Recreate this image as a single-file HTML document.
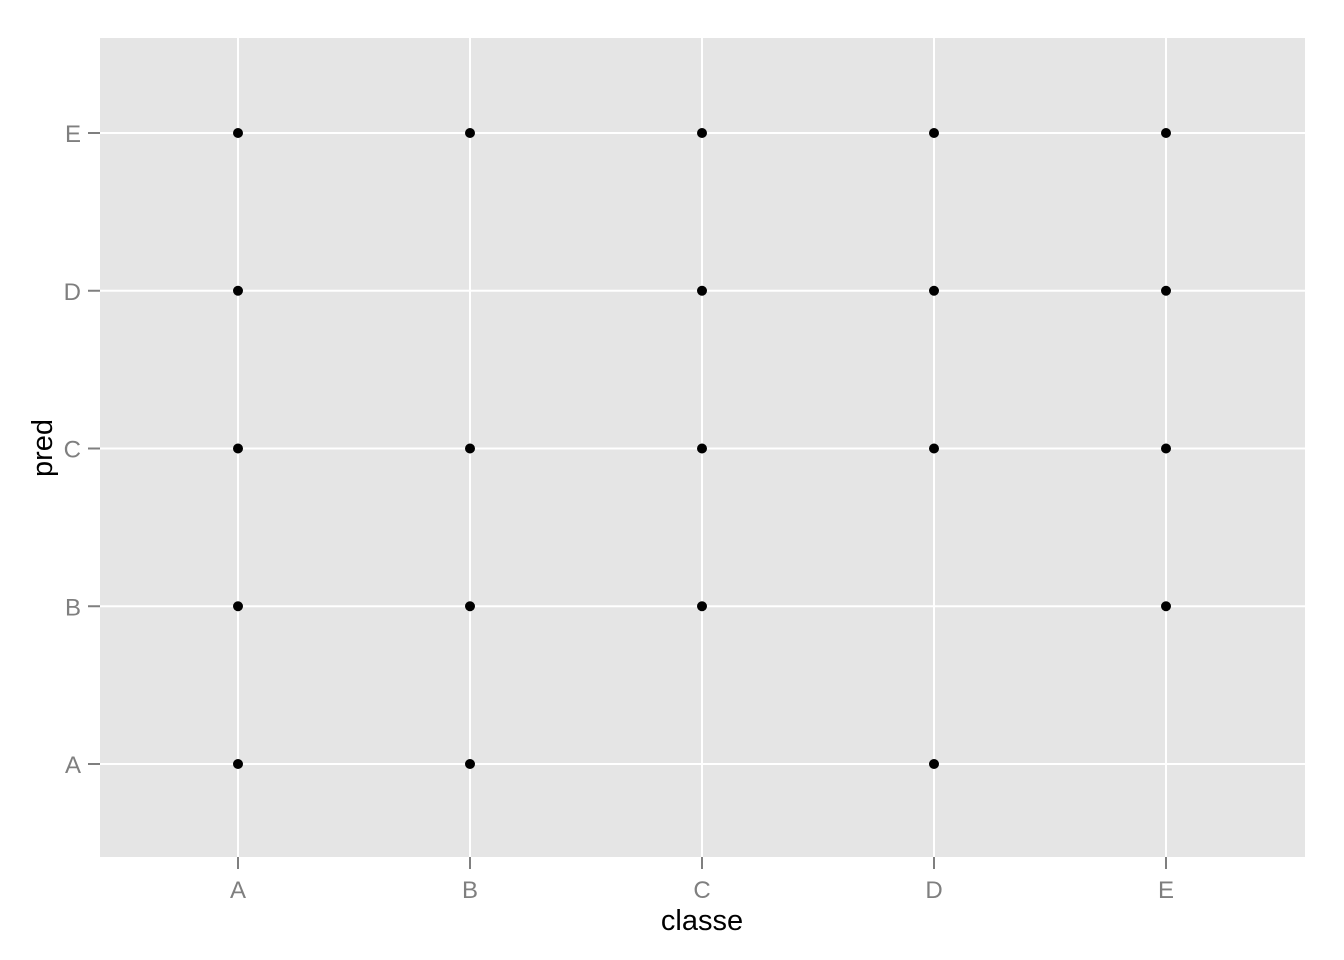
<!DOCTYPE html>
<html><head><meta charset="utf-8"><style>
body{margin:0;background:#fff}
svg{display:block;font-family:"Liberation Sans",sans-serif}
</style></head><body>
<svg id="chart" width="1344" height="960" xmlns="http://www.w3.org/2000/svg">
<rect x="100" y="38" width="1205" height="819" fill="#e5e5e5"/>
<g id="grid"></g><g id="pts"></g><g id="axes"></g>
<text x="702" y="930" font-size="29" text-anchor="middle" fill="#000">classe</text>
<text transform="translate(52,448) rotate(-90)" font-size="29" text-anchor="middle" fill="#000">pred</text>
</svg>
<script>
const categories = ["A","B","C","D","E"];
const classeVals = ["A","A","A","A","A","B","B","B","B","C","C","C","C","D","D","D","D","E","E","E","E"];
const predVals   = ["E","D","C","B","A","E","C","B","A","E","D","C","B","E","D","C","A","E","D","C","B"];
const NS="http://www.w3.org/2000/svg";
const xs=c=>238+categories.indexOf(c)*232;
const ys=c=>764-categories.indexOf(c)*157.75;
function mk(t,a,p){const e=document.createElementNS(NS,t);for(const k in a)e.setAttribute(k,a[k]);p.appendChild(e);return e;}
const grid=document.getElementById('grid'),pts=document.getElementById('pts'),axes=document.getElementById('axes');
categories.forEach(c=>{
  let l=mk('line',{x1:xs(c),x2:xs(c),y1:38,y2:857,stroke:'#fff','stroke-width':2},grid);
  
  
  l=mk('line',{x1:100,x2:1305,y1:ys(c),y2:ys(c),stroke:'#fff','stroke-width':2},grid);
  
  
  let t=mk('line',{x1:xs(c),x2:xs(c),y1:857,y2:869,stroke:'#7f7f7f','stroke-width':2},axes);
  
  
  t=mk('line',{x1:88,x2:100,y1:ys(c),y2:ys(c),stroke:'#7f7f7f','stroke-width':2},axes);
  
  
  let tx=mk('text',{x:xs(c),y:898,'font-size':24,'text-anchor':'middle',fill:'#7f7f7f'},axes);tx.textContent=c;
  
  
  tx=mk('text',{x:81,y:ys(c)+9,'font-size':24,'text-anchor':'end',fill:'#7f7f7f'},axes);tx.textContent=c;
  
  
});
classeVals.forEach((c,i)=>{
  const p=mk('circle',{cx:xs(c),cy:ys(predVals[i]),r:5,fill:'#000'},pts);
  
  
});
</script>
</body></html>
